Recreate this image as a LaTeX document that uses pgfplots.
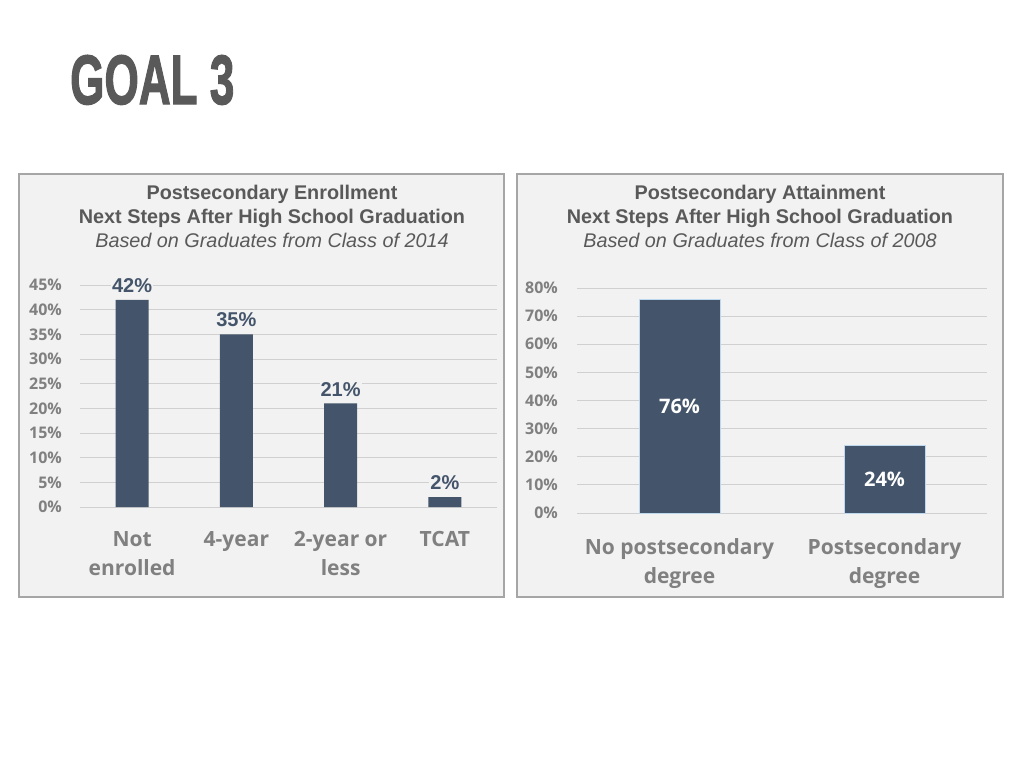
\documentclass[border=0pt]{standalone}
\usepackage{graphicx}
\usepackage{pgfplots}
\pgfplotsset{compat=1.18}
\usepackage{fontspec}
\setmainfont{Liberation Sans}
\newfontfamily\opensans{Open Sans}
\newfontfamily\goalfont{Liberation Sans}[FakeBold=2]
\definecolor{barc}{HTML}{44546A}
\definecolor{panelbg}{HTML}{F2F2F2}
\definecolor{panelborder}{HTML}{A6A6A6}
\definecolor{titlec}{HTML}{595959}
\definecolor{goalc}{HTML}{595959}
\definecolor{tickc}{HTML}{808080}
\definecolor{gridc}{HTML}{D0D0D0}
\definecolor{edgec}{HTML}{BDD7EE}

\pgfplotsset{
  panelaxis/.style={
    scale only axis,
    anchor=south west,
    axis line style={draw=none},
    major tick length=0pt,
    ymin=0,
    ymajorgrids,
    grid style={gridc, line width=1pt},
    xtick=data,
    /pgf/number format/assume math mode=true,
    yticklabel={\pgfmathprintnumber{\tick}\%},
    yticklabel style={font=\opensans\bfseries\fontsize{16}{16}\selectfont, text=tickc, anchor=east, inner sep=0pt},
    xticklabel style={font=\opensans\bfseries\fontsize{21}{29}\selectfont, text=tickc, align=center, anchor=north, inner sep=0pt},
    clip=false,
    ybar,
  }
}

\begin{document}
\begin{tikzpicture}
\useasboundingbox (0,0) rectangle (1024pt,-768pt);
\fill[white] (0,0) rectangle (1024pt,-768pt);
\node[anchor=west, text=goalc, inner sep=0pt] at (70pt,-80pt)
  {\scalebox{0.63}[1]{\goalfont\bfseries\fontsize{70}{70}\selectfont GOAL 3}};

\filldraw[fill=panelbg, draw=panelborder, line width=1.2pt] (19pt,-174pt) rectangle (504pt,-597pt);
\filldraw[fill=panelbg, draw=panelborder, line width=1.2pt] (517pt,-174pt) rectangle (1003pt,-597pt);

\node[align=center, text=titlec, font=\fontsize{19.8}{24}\selectfont\bfseries] at (272pt,-216pt)
  {Postsecondary Enrollment\\Next Steps After High School Graduation\\{\mdseries\itshape Based on Graduates from Class of 2014}};
\node[align=center, text=titlec, font=\fontsize{19.8}{24}\selectfont\bfseries] at (760pt,-216pt)
  {Postsecondary Attainment\\Next Steps After High School Graduation\\{\mdseries\itshape Based on Graduates from Class of 2008}};

\begin{axis}[panelaxis,
  at={(80pt,-507pt)},
  width=417pt, height=222pt,
  xmin=-0.5, xmax=3.5, ymax=45,
  ytick={0,5,...,45},
  xticklabels={{Not\\enrolled},{4-year},{2-year or\\less},{TCAT}},
  yticklabel style={xshift=-18pt},
  xticklabel style={yshift=-24pt},
  bar width=33pt,
  nodes near coords={\pgfmathprintnumber{\pgfplotspointmeta}\%},
  nodes near coords style={font=\fontsize{20}{20}\selectfont\bfseries, text=barc, fill=panelbg, inner sep=1pt, anchor=south, yshift=6pt},
]
\addplot[fill=barc, draw=none] coordinates {(0,42) (1,35) (2,21) (3,2)};
\end{axis}

\begin{axis}[panelaxis,
  at={(577pt,-513pt)},
  width=410pt, height=225pt,
  xmin=-0.5, xmax=1.5, ymax=80,
  ytick={0,10,...,80},
  xticklabels={{No postsecondary\\degree},{Postsecondary\\degree}},
  yticklabel style={xshift=-19pt},
  xticklabel style={yshift=-25pt},
  bar width=81pt,
  visualization depends on=rawy \as \rawy,
  nodes near coords={\pgfmathprintnumber{\pgfplotspointmeta}\%},
  nodes near coords style={font=\opensans\bfseries\fontsize{20}{20}\selectfont, text=white, anchor=center, shift={(axis direction cs:0,-\rawy/2)}},
]
\addplot[fill=barc, draw=edgec, line width=0.8pt] coordinates {(0,76) (1,24)};
\end{axis}
\end{tikzpicture}
\end{document}
